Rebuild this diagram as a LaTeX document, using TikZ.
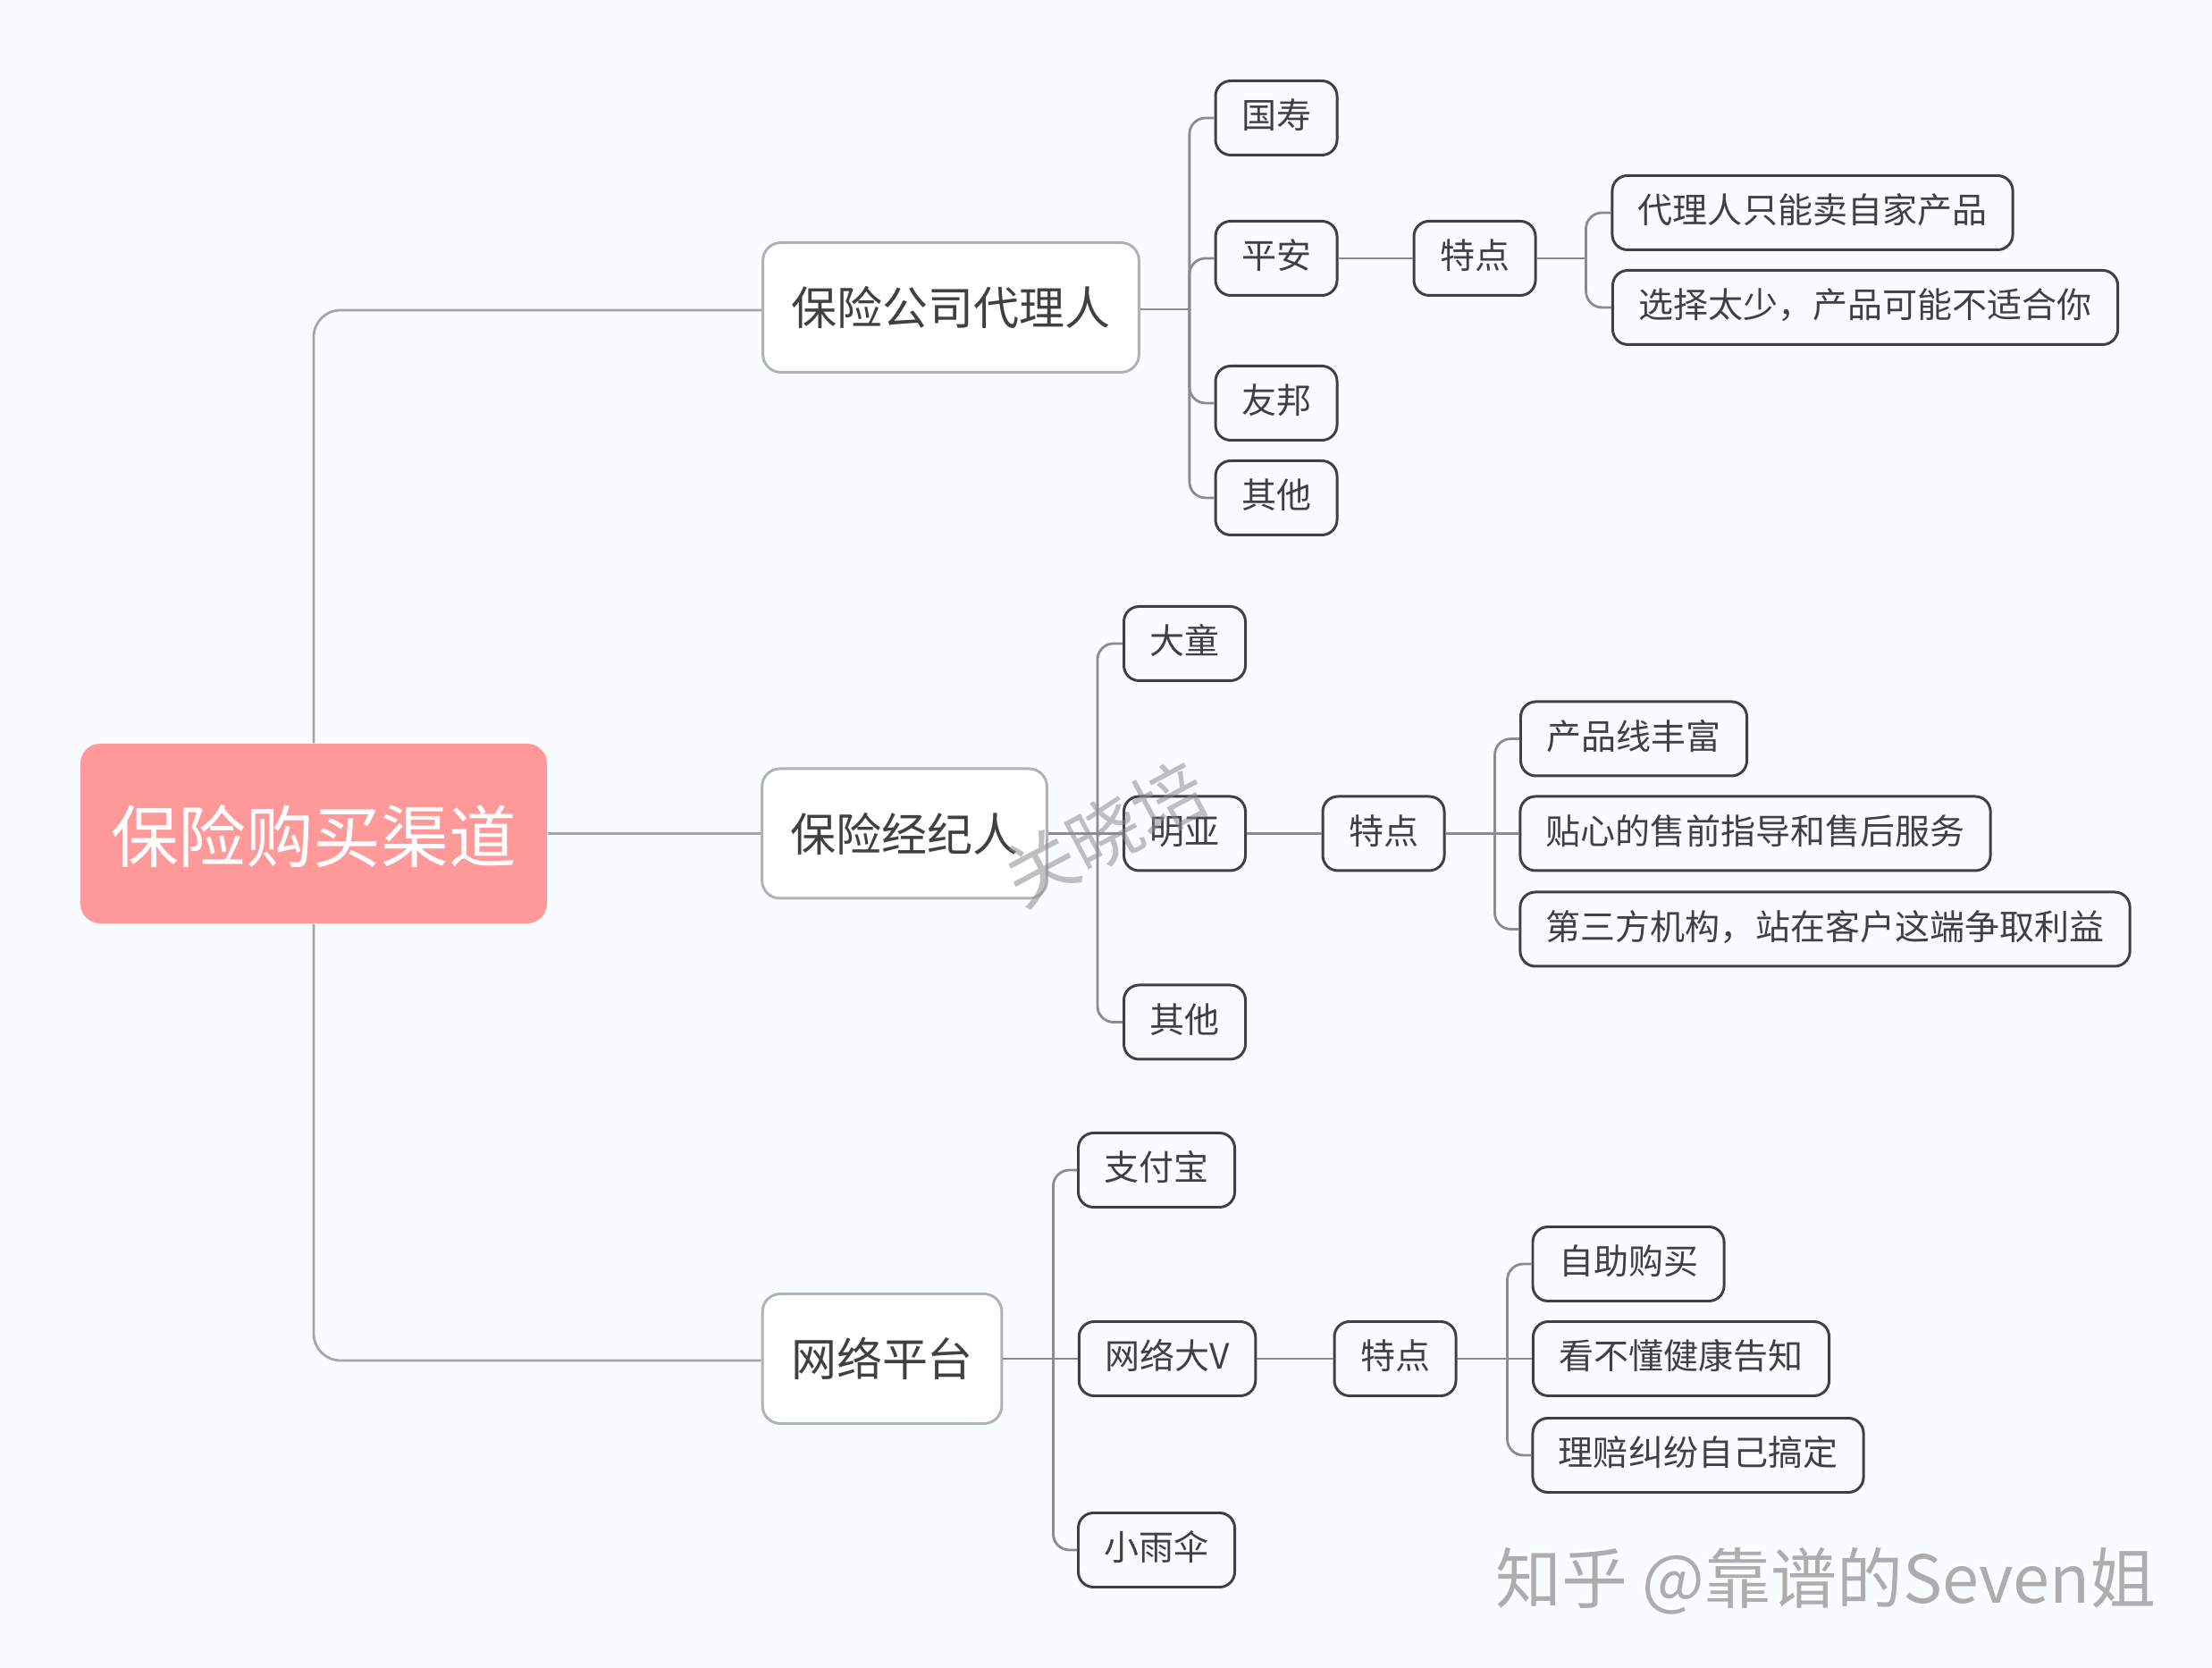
\documentclass[tikz,border=0pt]{standalone}
\usepackage{fontspec}
\setmainfont{Noto Sans CJK SC}
\usetikzlibrary{positioning}

\definecolor{pagebg}{HTML}{F8FCFF}
\definecolor{rootred}{HTML}{FF9999}
\definecolor{inkdark}{HTML}{404040}
\definecolor{boxline}{HTML}{B2B2B2}
\definecolor{busline}{HTML}{8C8C8C}
\definecolor{rootline}{HTML}{A6A6A6}

\tikzset{
  rootbox/.style={rectangle, fill=rootred, text=white, rounded corners=0.22cm, minimum width=5.22cm, minimum height=2.01cm, text height=20pt, text depth=2pt, font=\fontsize{21.5}{24}\selectfont},
  mainbox/.style={rectangle, draw=boxline, line width=0.85pt, fill=white, text=inkdark, rounded corners=0.2cm, inner xsep=0.32cm, inner ysep=0pt, minimum height=1.45cm, font=\fontsize{14.5}{17}\selectfont},
  leafbox/.style={rectangle, draw=inkdark, line width=0.85pt, fill=pagebg, text=inkdark, rounded corners=0.17cm, inner xsep=0.29cm, inner ysep=0pt, minimum height=0.83cm, text height=9pt, text depth=2.26pt, font=\fontsize{11.1}{14}\selectfont},
  rootlink/.style={draw=rootline, line width=0.8pt, rounded corners=0.3cm},
  buslink/.style={draw=busline, line width=0.8pt, rounded corners=0.18cm}
}

\begin{document}
\begin{tikzpicture}[on grid]
\fill [pagebg] (-3.51,9.325) rectangle (21.24,-9.335);

\node (root) [rootbox] {保险购买渠道};
\node (agent) [mainbox, above right=5.885cm and 7.13cm of root] {保险公司代理人};
\node (broker) [mainbox, right=6.61cm of root] {保险经纪人};
\node (platform) [mainbox, below right=5.875cm and 6.36cm of root] {网络平台};

% agent branch
\node (guoshou) [leafbox, above right=2.12cm and 3.64cm of agent] {国寿};
\node (pingan) [leafbox, below=1.57cm of guoshou] {平安};
\node (youbang) [leafbox, below=1.62cm of pingan] {友邦};
\node (agentother) [leafbox, below=1.06cm of youbang] {其他};
\node (agenttrait) [leafbox, right=2.22cm of pingan] {特点};
\node (ownonly) [leafbox, above right=0.51cm and 3.78cm of agenttrait] {代理人只能卖自家产品};
\node (fewchoice) [leafbox, below right=0.55cm and 4.37cm of agenttrait] {选择太少，产品可能不适合你};

% broker branch
\node (mingya) [leafbox, right=3.135cm of broker] {明亚};
\node (datong) [leafbox, above=2.125cm of mingya] {大童};
\node (brokerother) [leafbox, below=2.11cm of mingya] {其他};
\node (brokertrait) [leafbox, right=2.225cm of mingya] {特点};
\node (richline) [leafbox, above right=1.06cm and 2.8cm of brokertrait] {产品线丰富};
\node (service) [leafbox, right=4.16cm of brokertrait] {贴心的售前指导和售后服务};
\node (thirdparty) [leafbox, below right=1.07cm and 4.94cm of brokertrait] {第三方机构，站在客户这端争取利益};

% platform branch
\node (bigv) [leafbox, right=3.19cm of platform] {网络大V};
\node (alipay) [leafbox, above left=2.11cm and 0.12cm of bigv] {支付宝};
\node (umbrella) [leafbox, below left=2.14cm and 0.12cm of bigv] {小雨伞};
\node (platformtrait) [leafbox, right=2.55cm of bigv] {特点};
\node (selfbuy) [leafbox, above right=1.06cm and 2.61cm of platformtrait] {自助购买};
\node (health) [leafbox, right=3.2cm of platformtrait] {看不懂健康告知};
\node (claim) [leafbox, below right=1.08cm and 3.39cm of platformtrait] {理赔纠纷自己搞定};

% bus lines
\coordinate [right=0.55cm of agent.east, yshift=-0.02cm] (agentbus);
\coordinate [right=0.55cm of agenttrait.east] (agenttraitbus);
\coordinate [right=0.55cm of broker.east] (brokerbus);
\coordinate [right=0.55cm of brokertrait.east] (brokertraitbus);
\coordinate [right=0.56cm of platform.east] (platformbus);
\coordinate [right=0.56cm of platformtrait.east] (platformtraitbus);

\draw [rootlink] (root.north) |- ([yshift=-0.03cm]agent.west);
\draw [rootlink, yshift=-0.02cm] (root) -- (broker);
\draw [rootlink] (root.south) |- ([yshift=-0.02cm]platform.west);

\draw [buslink, sharp corners] (agent.east |- agentbus) -- (agentbus);
\draw [buslink] (agentbus) |- (guoshou.west);
\draw [buslink] (agentbus) |- (pingan.west);
\draw [buslink] (agentbus) |- (youbang.west);
\draw [buslink] (agentbus) |- (agentother.west);
\draw [buslink] (pingan) -- (agenttrait);
\draw [buslink] (agenttrait.east) -- (agenttraitbus);
\draw [buslink] (agenttraitbus) |- (ownonly.west);
\draw [buslink] (agenttraitbus) |- (fewchoice.west);

\draw [buslink] (broker) -- (mingya);
\draw [buslink] (brokerbus) |- (datong.west);
\draw [buslink] (brokerbus) |- (brokerother.west);
\draw [buslink] (mingya) -- (brokertrait);
\draw [buslink] (brokertrait) -- (service);
\draw [buslink] (brokertraitbus) |- (richline.west);
\draw [buslink] (brokertraitbus) |- (thirdparty.west);

\draw [buslink] (platform) -- (bigv);
\draw [buslink] (platformbus) |- (alipay.west);
\draw [buslink] (platformbus) |- (umbrella.west);
\draw [buslink] (bigv) -- (platformtrait);
\draw [buslink] (platformtrait) -- (health);
\draw [buslink] (platformtraitbus) |- (selfbuy.west);
\draw [buslink] (platformtraitbus) |- (claim.west);

% watermarks
\node (signature) [right=8.85cm of root, rotate=28, text=black!45, opacity=0.55, font=\fontsize{23}{26}\selectfont] {关晓培};
\node (logoshade) [below right=8.34cm and 16.9cm of root, text=white, font=\fontsize{21}{24}\selectfont] {知乎 @靠谱的Seven姐};
\node (logo) [below right=8.365cm and 16.92cm of root, text=black!32, font=\fontsize{21}{24}\selectfont] {知乎 @靠谱的Seven姐};
\end{tikzpicture}
\end{document}
